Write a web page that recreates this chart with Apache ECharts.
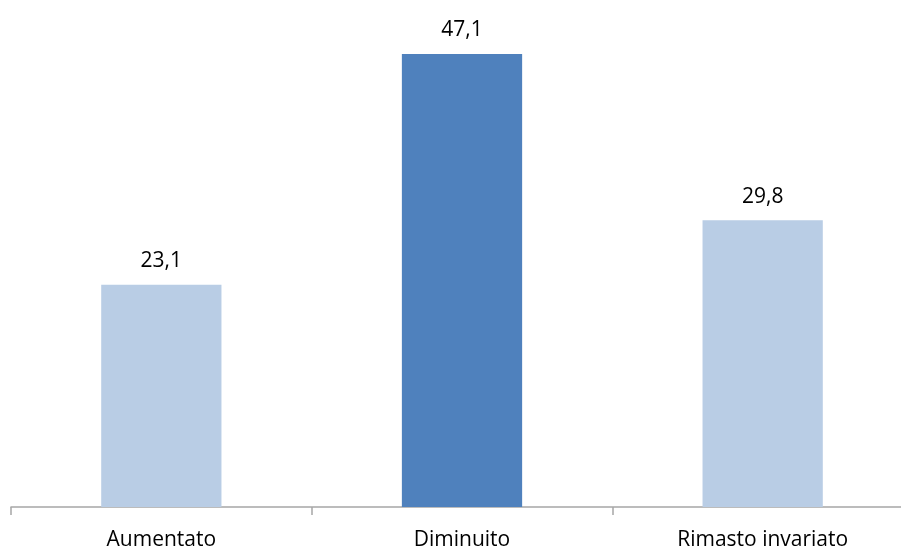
<!DOCTYPE html>
<html>
<head>
<meta charset="utf-8">
<script src="https://cdn.jsdelivr.net/npm/echarts@6/dist/echarts.min.js"></script>
<style>
  html, body { margin: 0; padding: 0; background: #ffffff; }
  #chart { width: 901px; height: 550px; }
</style>
</head>
<body>
<div id="chart"></div>
<script>
// Categories and values shown as bars
var categories = ['Aumentato', 'Diminuito', 'Rimasto invariato'];
var values = [23.1, 47.1, 29.8];
// Highlighted bar uses the darker blue
var highlighted = [false, true, false];

var lightBlue = '#B9CDE5';
var darkBlue = '#4F81BD';

var chart = echarts.init(document.getElementById('chart'), null, { renderer: 'canvas' });

var barData = values.map(function (v, i) {
  return {
    value: v,
    itemStyle: { color: highlighted[i] ? darkBlue : lightBlue }
  };
});

chart.setOption({
  animation: false,
  backgroundColor: '#ffffff',
  grid: {
    left: 11, top: 26, right: -12, bottom: 43,
    containLabel: false,
    outerBoundsMode: 'none'
  },
  xAxis: {
    type: 'category',
    data: categories,
    axisLine: { show: true, lineStyle: { color: '#A6A6A6', width: 1.5 } },
    axisTick: { show: true, length: 8, lineStyle: { color: '#A6A6A6', width: 1.5 } },
    axisLabel: {
      color: '#000000',
      fontFamily: 'Open Sans, sans-serif',
      fontSize: 21,
      margin: 23
    }
  },
  yAxis: {
    type: 'value',
    min: 0,
    max: 50,
    show: false,
    splitLine: { show: false }
  },
  series: [{
    type: 'bar',
    data: barData,
    barWidth: '40%',
    label: {
      show: true,
      position: 'top',
      distance: 13,
      color: '#000000',
      fontFamily: 'Open Sans, sans-serif',
      fontSize: 21,
      formatter: function (p) {
        return String(p.value).replace('.', ',');
      }
    }
  }]
});
</script>
</body>
</html>
